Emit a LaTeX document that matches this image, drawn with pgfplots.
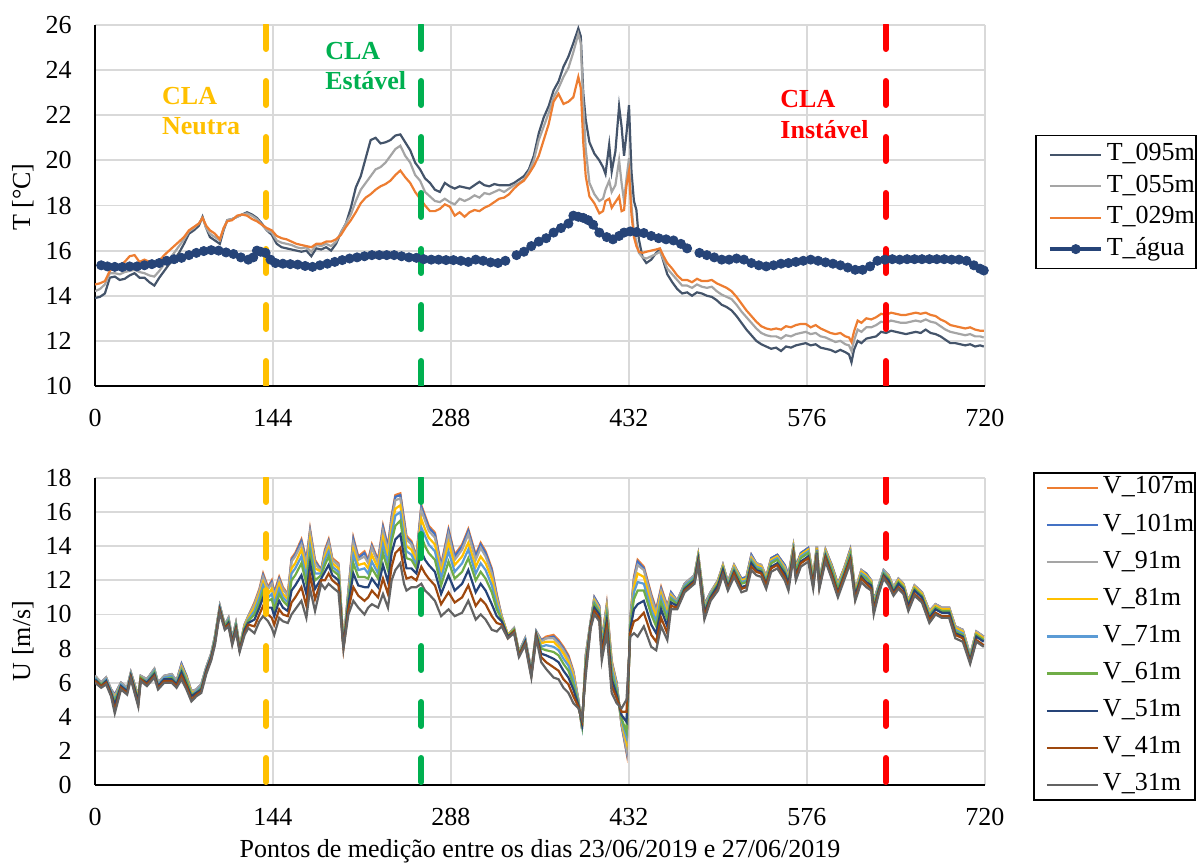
\documentclass[border=0pt]{standalone}
\usepackage{fontspec}
\setmainfont{Liberation Serif}
\usepackage{pgfplots}
\usepackage{pgfplotstable}
\pgfplotsset{compat=1.18}
\definecolor{c095}{HTML}{44546A}
\definecolor{c055}{HTML}{A5A5A5}
\definecolor{c029}{HTML}{ED7D31}
\definecolor{cagua}{HTML}{264478}
\definecolor{v107}{HTML}{ED7D31}
\definecolor{v101}{HTML}{4472C4}
\definecolor{v91}{HTML}{A5A5A5}
\definecolor{v81}{HTML}{FFC000}
\definecolor{v71}{HTML}{5B9BD5}
\definecolor{v61}{HTML}{70AD47}
\definecolor{v51}{HTML}{264478}
\definecolor{v41}{HTML}{9E480E}
\definecolor{v31}{HTML}{636363}
\definecolor{cyel}{HTML}{FFC000}
\definecolor{cgrn}{HTML}{00B050}
\definecolor{cred}{HTML}{FF0000}
\definecolor{gridc}{HTML}{D9D9D9}
\pgfplotsset{
 myaxis/.style={scale only axis, width=445pt, xmin=0, xmax=720,
  xtick={0,144,288,432,576,720},
  axis x line*=bottom, axis y line*=left,
  axis line style={black, line width=1pt},
  grid=major, major grid style={gridc, line width=0.9pt},
  major tick length=0pt, tick style={draw=none},
  ticklabel style={font=\fontsize{13}{13}\selectfont},
  /pgf/number format/assume math mode=true,
  xticklabel style={anchor=base, yshift=-20.3pt},
  yticklabel style={anchor=east, inner sep=0pt, xshift=-11.5pt},
  unbounded coords=jump,
  legend cell align=left,
  legend image code/.code={\path (0pt,0pt); \draw[mark repeat=2,mark phase=2,##1] plot coordinates {(5.5pt,0pt) (18.5pt,0pt) (31pt,0pt)};},
  legend style={draw=black, line width=0.8pt, fill=white,
    font=\fontsize{13}{13}\selectfont, inner xsep=0.5pt,
    nodes={inner sep=0pt, text height=9pt, text depth=3pt},
    /tikz/every odd column/.append style={column sep=2pt}},
 },
 vl/.style={line width=3pt, line cap=round, dash pattern=on 12pt off 16pt, forget plot},
}
\begin{document}
\pgfplotstableread[row sep=\\]{x y\\ 0 13.9\\ 4 13.95\\ 8 14.1\\ 12 14.8\\ 16 14.85\\ 20 14.7\\ 24 14.75\\ 28 14.9\\ 32 15.0\\ 36 14.8\\ 40 14.8\\ 44 14.6\\ 48 14.45\\ 52 14.8\\ 56 15.1\\ 60 15.4\\ 64 15.6\\ 68 15.9\\ 72 16.3\\ 76 16.75\\ 80 16.9\\ 84 17.1\\ 87 17.5\\ 90 17.0\\ 93 16.6\\ 97 16.45\\ 101 16.3\\ 104 16.9\\ 107 17.35\\ 111 17.4\\ 115 17.5\\ 119 17.6\\ 123 17.7\\ 127 17.6\\ 131 17.45\\ 135 17.2\\ 139 16.9\\ 143 16.7\\ 147 16.3\\ 151 16.15\\ 155 16.1\\ 159 16.05\\ 163 16.0\\ 167 15.95\\ 171 16.0\\ 175 15.75\\ 179 16.1\\ 183 16.05\\ 187 16.15\\ 191 16.0\\ 195 16.3\\ 199 16.8\\ 203 17.2\\ 207 17.9\\ 211 18.8\\ 215 19.3\\ 219 20.1\\ 223 20.9\\ 227 21.0\\ 231 20.75\\ 235 20.8\\ 239 20.9\\ 243 21.1\\ 247 21.15\\ 251 20.8\\ 255 20.45\\ 259 19.9\\ 263 19.6\\ 267 19.2\\ 271 19.0\\ 275 18.7\\ 279 18.6\\ 283 19.0\\ 287 18.85\\ 291 18.75\\ 295 18.85\\ 299 18.8\\ 303 18.75\\ 307 18.9\\ 311 19.05\\ 315 18.9\\ 319 18.85\\ 323 18.95\\ 327 18.9\\ 331 18.9\\ 335 18.9\\ 339 19.0\\ 343 19.15\\ 347 19.3\\ 351 19.6\\ 355 20.2\\ 359 21.2\\ 363 21.9\\ 367 22.4\\ 371 23.1\\ 375 23.5\\ 379 24.15\\ 383 24.6\\ 387 25.2\\ 391 25.85\\ 393 25.5\\ 395 23.0\\ 397 21.8\\ 400 20.8\\ 404 20.3\\ 408 20.0\\ 411 19.7\\ 413 19.4\\ 416 20.7\\ 418 19.5\\ 421 20.4\\ 424 22.4\\ 426 21.5\\ 428 20.2\\ 430 21.2\\ 432 22.45\\ 434 19.5\\ 436 18.2\\ 438 17.8\\ 440 16.5\\ 443 15.7\\ 446 15.45\\ 450 15.6\\ 454 15.9\\ 457 16.05\\ 460 15.5\\ 463 14.95\\ 467 14.6\\ 471 14.3\\ 475 14.1\\ 479 14.15\\ 483 14.0\\ 487 14.15\\ 491 14.1\\ 495 14.0\\ 499 13.95\\ 503 13.8\\ 507 13.6\\ 511 13.5\\ 515 13.35\\ 519 13.1\\ 523 12.8\\ 527 12.5\\ 531 12.25\\ 535 12.0\\ 539 11.85\\ 543 11.75\\ 547 11.65\\ 551 11.7\\ 555 11.55\\ 559 11.75\\ 563 11.7\\ 567 11.8\\ 571 11.85\\ 575 11.9\\ 579 11.8\\ 583 11.85\\ 587 11.7\\ 591 11.65\\ 595 11.6\\ 599 11.5\\ 603 11.6\\ 607 11.5\\ 610 11.4\\ 612 11.05\\ 614 11.6\\ 617 12.0\\ 620 11.9\\ 624 12.1\\ 628 12.15\\ 632 12.2\\ 636 12.4\\ 640 12.35\\ 644 12.45\\ 648 12.4\\ 652 12.35\\ 656 12.3\\ 660 12.35\\ 664 12.4\\ 668 12.35\\ 672 12.5\\ 676 12.35\\ 680 12.3\\ 684 12.2\\ 688 12.05\\ 692 11.9\\ 696 11.9\\ 700 11.85\\ 704 11.8\\ 708 11.85\\ 712 11.75\\ 716 11.8\\ 719 11.75\\}\tA
\pgfplotstableread[row sep=\\]{x y\\ 0 14.2\\ 4 14.3\\ 8 14.5\\ 12 15.0\\ 16 15.0\\ 20 14.95\\ 24 15.05\\ 28 15.1\\ 32 15.15\\ 36 15.05\\ 40 15.0\\ 44 14.9\\ 48 14.85\\ 52 15.1\\ 56 15.4\\ 60 15.6\\ 64 15.9\\ 68 16.2\\ 72 16.5\\ 76 16.85\\ 80 17.0\\ 84 17.2\\ 87 17.45\\ 90 17.0\\ 93 16.75\\ 97 16.6\\ 101 16.45\\ 104 16.95\\ 107 17.35\\ 111 17.4\\ 115 17.5\\ 119 17.6\\ 123 17.65\\ 127 17.55\\ 131 17.4\\ 135 17.15\\ 139 16.9\\ 143 16.8\\ 147 16.45\\ 151 16.35\\ 155 16.3\\ 159 16.25\\ 163 16.15\\ 167 16.1\\ 171 16.15\\ 175 15.95\\ 179 16.25\\ 183 16.2\\ 187 16.3\\ 191 16.2\\ 195 16.4\\ 199 16.8\\ 203 17.2\\ 207 17.6\\ 211 18.2\\ 215 18.7\\ 219 19.0\\ 223 19.3\\ 227 19.6\\ 231 19.7\\ 235 19.9\\ 239 20.2\\ 243 20.5\\ 247 20.65\\ 251 20.2\\ 255 19.9\\ 259 19.35\\ 263 19.1\\ 267 18.6\\ 271 18.4\\ 275 18.2\\ 279 18.15\\ 283 18.3\\ 287 18.15\\ 291 18.05\\ 295 18.3\\ 299 18.2\\ 303 18.3\\ 307 18.45\\ 311 18.35\\ 315 18.55\\ 319 18.5\\ 323 18.6\\ 327 18.7\\ 331 18.6\\ 335 18.75\\ 339 18.9\\ 343 19.0\\ 347 19.15\\ 351 19.5\\ 355 20.0\\ 359 20.9\\ 363 21.5\\ 367 22.1\\ 371 22.8\\ 375 23.2\\ 379 23.7\\ 383 24.1\\ 387 24.8\\ 391 25.6\\ 393 25.2\\ 395 22.5\\ 397 20.5\\ 400 19.0\\ 404 18.5\\ 408 18.2\\ 411 18.3\\ 413 18.7\\ 416 19.1\\ 418 18.6\\ 421 18.9\\ 424 20.0\\ 426 19.0\\ 428 18.2\\ 430 19.2\\ 432 20.1\\ 434 18.0\\ 436 16.8\\ 438 16.4\\ 440 15.9\\ 443 15.7\\ 446 15.65\\ 450 15.75\\ 454 15.85\\ 457 15.95\\ 460 15.6\\ 463 15.2\\ 467 14.95\\ 471 14.7\\ 475 14.45\\ 479 14.45\\ 483 14.35\\ 487 14.5\\ 491 14.4\\ 495 14.35\\ 499 14.4\\ 503 14.2\\ 507 14.05\\ 511 13.95\\ 515 13.85\\ 519 13.6\\ 523 13.3\\ 527 13.05\\ 531 12.8\\ 535 12.55\\ 539 12.35\\ 543 12.25\\ 547 12.2\\ 551 12.2\\ 555 12.1\\ 559 12.25\\ 563 12.2\\ 567 12.3\\ 571 12.35\\ 575 12.4\\ 579 12.3\\ 583 12.35\\ 587 12.2\\ 591 12.15\\ 595 12.05\\ 599 11.95\\ 603 12.0\\ 607 11.85\\ 610 11.8\\ 612 11.55\\ 614 12.0\\ 617 12.5\\ 620 12.4\\ 624 12.6\\ 628 12.6\\ 632 12.7\\ 636 12.85\\ 640 12.8\\ 644 12.9\\ 648 12.85\\ 652 12.8\\ 656 12.8\\ 660 12.85\\ 664 12.9\\ 668 12.85\\ 672 12.95\\ 676 12.85\\ 680 12.8\\ 684 12.65\\ 688 12.5\\ 692 12.4\\ 696 12.35\\ 700 12.3\\ 704 12.25\\ 708 12.3\\ 712 12.2\\ 716 12.2\\ 719 12.15\\}\tB
\pgfplotstableread[row sep=\\]{x y\\ 0 14.5\\ 4 14.55\\ 8 14.65\\ 12 15.1\\ 16 15.3\\ 20 15.35\\ 24 15.5\\ 28 15.75\\ 32 15.8\\ 36 15.5\\ 40 15.6\\ 44 15.5\\ 48 15.4\\ 52 15.55\\ 56 15.8\\ 60 16.0\\ 64 16.2\\ 68 16.4\\ 72 16.6\\ 76 16.9\\ 80 17.05\\ 84 17.2\\ 87 17.45\\ 90 17.1\\ 93 16.9\\ 97 16.75\\ 101 16.5\\ 104 17.0\\ 107 17.3\\ 111 17.35\\ 115 17.55\\ 119 17.6\\ 123 17.55\\ 127 17.4\\ 131 17.3\\ 135 17.15\\ 139 17.0\\ 143 16.9\\ 147 16.65\\ 151 16.55\\ 155 16.5\\ 159 16.4\\ 163 16.3\\ 167 16.25\\ 171 16.2\\ 175 16.15\\ 179 16.3\\ 183 16.3\\ 187 16.4\\ 191 16.4\\ 195 16.5\\ 199 16.7\\ 203 17.05\\ 207 17.35\\ 211 17.7\\ 215 18.1\\ 219 18.35\\ 223 18.5\\ 227 18.7\\ 231 18.85\\ 235 18.95\\ 239 19.1\\ 243 19.35\\ 247 19.55\\ 251 19.25\\ 255 19.0\\ 259 18.6\\ 263 18.3\\ 267 18.0\\ 271 17.75\\ 275 17.75\\ 279 17.85\\ 283 18.05\\ 287 17.95\\ 291 17.55\\ 295 17.7\\ 299 17.5\\ 303 17.7\\ 307 17.8\\ 311 17.75\\ 315 17.9\\ 319 18.0\\ 323 18.15\\ 327 18.3\\ 331 18.35\\ 335 18.5\\ 339 18.75\\ 343 18.95\\ 347 19.1\\ 351 19.4\\ 355 19.75\\ 359 20.2\\ 363 20.9\\ 367 21.6\\ 371 22.6\\ 375 22.95\\ 379 22.5\\ 383 22.6\\ 387 22.8\\ 391 23.7\\ 393 23.2\\ 395 20.8\\ 397 19.3\\ 400 18.4\\ 404 18.1\\ 408 17.65\\ 411 17.75\\ 413 18.2\\ 416 18.3\\ 418 17.9\\ 421 18.15\\ 424 18.4\\ 426 17.75\\ 428 17.8\\ 430 18.9\\ 432 19.5\\ 434 17.6\\ 436 16.6\\ 438 16.2\\ 440 15.95\\ 443 15.9\\ 446 15.95\\ 450 16.0\\ 454 16.05\\ 457 16.1\\ 460 15.75\\ 463 15.45\\ 467 15.2\\ 471 14.9\\ 475 14.7\\ 479 14.7\\ 483 14.6\\ 487 14.75\\ 491 14.65\\ 495 14.65\\ 499 14.7\\ 503 14.55\\ 507 14.45\\ 511 14.35\\ 515 14.2\\ 519 13.95\\ 523 13.65\\ 527 13.35\\ 531 13.1\\ 535 12.85\\ 539 12.65\\ 543 12.55\\ 547 12.5\\ 551 12.55\\ 555 12.5\\ 559 12.65\\ 563 12.6\\ 567 12.7\\ 571 12.75\\ 575 12.75\\ 579 12.6\\ 583 12.7\\ 587 12.55\\ 591 12.45\\ 595 12.35\\ 599 12.3\\ 603 12.35\\ 607 12.2\\ 610 12.15\\ 612 11.95\\ 614 12.4\\ 617 12.9\\ 620 12.8\\ 624 13.0\\ 628 12.95\\ 632 13.05\\ 636 13.2\\ 640 13.15\\ 644 13.25\\ 648 13.2\\ 652 13.15\\ 656 13.15\\ 660 13.2\\ 664 13.25\\ 668 13.2\\ 672 13.25\\ 676 13.15\\ 680 13.1\\ 684 12.95\\ 688 12.85\\ 692 12.7\\ 696 12.65\\ 700 12.6\\ 704 12.55\\ 708 12.6\\ 712 12.5\\ 716 12.45\\ 719 12.45\\}\tC
\pgfplotstableread[row sep=\\]{x y\\ 5 15.35\\ 10 15.3\\ 16 15.28\\ 22 15.27\\ 28 15.3\\ 34 15.3\\ 40 15.35\\ 46 15.4\\ 52 15.45\\ 58 15.55\\ 64 15.62\\ 70 15.68\\ 76 15.8\\ 82 15.9\\ 88 15.98\\ 94 16.02\\ 100 16.0\\ 106 15.92\\ 112 15.85\\ 118 15.7\\ 124 15.6\\ 128 15.7\\ 131 16.0\\ 134 15.95\\ 138 15.9\\ 142 15.6\\ 146 15.45\\ 152 15.42\\ 158 15.4\\ 164 15.38\\ 170 15.32\\ 176 15.28\\ 182 15.35\\ 188 15.42\\ 194 15.5\\ 200 15.58\\ 206 15.65\\ 212 15.7\\ 218 15.75\\ 224 15.8\\ 230 15.8\\ 236 15.8\\ 242 15.8\\ 248 15.75\\ 254 15.7\\ 260 15.68\\ 266 15.62\\ 272 15.6\\ 278 15.6\\ 284 15.58\\ 290 15.58\\ 296 15.55\\ 302 15.5\\ 308 15.6\\ 314 15.55\\ 320 15.48\\ 326 15.45\\ 332 15.55\\ 336 nan\\ 341 15.8\\ 347 15.95\\ 353 16.2\\ 359 16.4\\ 365 16.55\\ 371 16.8\\ 377 17.0\\ 383 17.2\\ 387 17.55\\ 391 17.5\\ 395 17.45\\ 399 17.35\\ 403 17.15\\ 408 16.8\\ 414 16.6\\ 419 16.5\\ 424 16.65\\ 428 16.8\\ 433 16.85\\ 438 16.82\\ 444 16.78\\ 450 16.65\\ 456 16.55\\ 462 16.5\\ 468 16.45\\ 474 16.3\\ 479 16.1\\ 484 nan\\ 489 15.9\\ 495 15.8\\ 501 15.7\\ 507 15.6\\ 513 15.6\\ 519 15.65\\ 525 15.6\\ 531 15.45\\ 537 15.35\\ 543 15.3\\ 549 15.35\\ 555 15.42\\ 561 15.45\\ 567 15.5\\ 573 15.55\\ 579 15.6\\ 585 15.55\\ 591 15.48\\ 597 15.42\\ 603 15.35\\ 609 15.25\\ 615 15.15\\ 621 15.15\\ 627 15.3\\ 633 15.55\\ 639 15.6\\ 645 15.62\\ 651 15.6\\ 657 15.62\\ 663 15.62\\ 669 15.62\\ 675 15.62\\ 681 15.62\\ 687 15.62\\ 693 15.6\\ 699 15.6\\ 705 15.55\\ 711 15.35\\ 716 15.2\\ 719 15.12\\}\tD
\pgfplotstableread[row sep=\\]{x a b c d e f g h i\\
0 6.4 6.4 6.4 6.3 6.3 6.2 6.2 6.1 6.0\\
5 6.0 6.0 6.0 5.9 5.9 5.9 5.8 5.8 5.7\\
9 6.3 6.3 6.3 6.2 6.2 6.1 6.1 6.0 5.9\\
13 5.6 5.6 5.6 5.5 5.5 5.4 5.4 5.3 5.2\\
16 5.3 5.3 5.2 5.1 5.0 4.9 4.7 4.4 4.2\\
21 6.0 6.0 6.0 5.9 5.9 5.8 5.8 5.7 5.6\\
26 5.7 5.7 5.7 5.6 5.6 5.5 5.5 5.4 5.3\\
29 6.6 6.6 6.6 6.5 6.5 6.4 6.4 6.3 6.2\\
35 5.2 5.2 5.2 5.1 5.0 5.0 4.9 4.7 4.6\\
37 6.4 6.4 6.4 6.3 6.3 6.3 6.2 6.2 6.1\\
42 6.2 6.2 6.2 6.1 6.1 6.0 6.0 5.9 5.8\\
48 6.8 6.8 6.8 6.7 6.7 6.6 6.5 6.4 6.3\\
51 6.0 6.0 6.0 5.9 5.9 5.8 5.8 5.7 5.6\\
56 6.4 6.4 6.4 6.3 6.3 6.2 6.2 6.1 6.0\\
62 6.5 6.5 6.5 6.4 6.4 6.3 6.2 6.1 6.0\\
66 6.1 6.1 6.1 6.0 6.0 5.9 5.9 5.8 5.7\\
70 7.1 7.1 7.0 6.9 6.8 6.7 6.6 6.4 6.2\\
74 6.4 6.4 6.3 6.3 6.2 6.1 5.9 5.8 5.6\\
78 5.5 5.5 5.5 5.4 5.3 5.3 5.2 5.0 4.9\\
82 5.6 5.6 5.6 5.5 5.5 5.4 5.4 5.3 5.2\\
86 5.9 5.9 5.9 5.8 5.8 5.7 5.6 5.5 5.4\\
90 6.9 6.9 6.9 6.8 6.8 6.7 6.7 6.6 6.5\\
94 7.7 7.7 7.7 7.6 7.6 7.5 7.5 7.4 7.3\\
97 8.7 8.7 8.7 8.6 8.6 8.5 8.4 8.3 8.2\\
101 10.5 10.5 10.5 10.4 10.4 10.3 10.3 10.2 10.1\\
105 9.4 9.4 9.4 9.3 9.3 9.3 9.2 9.2 9.1\\
108 9.8 9.8 9.8 9.7 9.7 9.6 9.5 9.4 9.3\\
111 8.6 8.6 8.6 8.5 8.5 8.4 8.4 8.3 8.2\\
114 9.5 9.5 9.5 9.4 9.4 9.3 9.2 9.1 9.0\\
117 8.1 8.1 8.1 8.0 8.0 8.0 7.9 7.9 7.8\\
121 9.4 9.4 9.4 9.3 9.2 9.2 9.1 8.9 8.8\\
124 9.9 9.9 9.9 9.8 9.7 9.6 9.5 9.4 9.2\\
129 10.7 10.6 10.6 10.4 10.2 10.0 9.7 9.3 8.9\\
133 11.5 11.4 11.4 11.2 11.0 10.7 10.4 10.0 9.6\\
136 12.4 12.3 12.2 11.9 11.7 11.4 11.0 10.5 9.9\\
140 11.6 11.5 11.5 11.2 11.0 10.8 10.4 10.0 9.6\\
143 12.0 11.9 11.8 11.5 11.2 10.9 10.4 9.8 9.2\\
145 11.3 11.2 11.1 10.9 10.6 10.3 9.9 9.4 8.8\\
149 12.2 12.1 12.0 11.8 11.5 11.2 10.8 10.3 9.8\\
152 11.6 11.5 11.5 11.2 11.0 10.8 10.4 10.0 9.6\\
156 11.2 11.1 11.1 10.9 10.7 10.5 10.2 9.9 9.5\\
159 13.3 13.2 13.1 12.7 12.4 12.0 11.4 10.7 10.0\\
162 13.6 13.5 13.4 13.0 12.7 12.3 11.7 11.0 10.3\\
167 14.4 14.3 14.1 13.8 13.4 13.0 12.3 11.6 10.8\\
171 13.2 13.1 13.0 12.6 12.2 11.8 11.2 10.5 9.8\\
174 15.0 14.9 14.8 14.4 14.0 13.6 13.0 12.3 11.5\\
178 13.2 13.1 13.0 12.7 12.4 12.0 11.5 10.9 10.2\\
183 12.6 12.6 12.5 12.5 12.4 12.3 12.1 12.0 11.8\\
186 13.8 13.7 13.6 13.4 13.2 12.9 12.5 12.0 11.5\\
189 14.4 14.3 14.2 13.9 13.7 13.4 12.9 12.4 11.8\\
192 13.3 13.2 13.2 13.0 12.8 12.6 12.3 12.0 11.6\\
197 13.0 12.9 12.9 12.7 12.5 12.3 12.0 11.7 11.3\\
201 8.2 8.2 8.2 8.2 8.1 8.1 8.1 8.0 8.0\\
205 11.4 11.4 11.3 11.1 11.0 10.8 10.6 10.3 10.0\\
209 14.5 14.4 14.2 13.8 13.5 13.0 12.4 11.6 10.8\\
213 13.4 13.3 13.2 12.9 12.6 12.2 11.7 11.1 10.4\\
218 13.7 13.6 13.4 13.0 12.7 12.2 11.6 10.8 10.0\\
221 13.2 13.1 13.0 12.7 12.4 12.1 11.6 11.0 10.4\\
224 14.1 14.0 13.9 13.5 13.1 12.7 12.1 11.4 10.6\\
229 13.2 13.1 13.0 12.7 12.4 12.1 11.6 11.0 10.4\\
233 15.2 15.1 14.9 14.5 14.1 13.6 12.9 12.1 11.2\\
237 14.0 13.9 13.7 13.4 13.0 12.6 11.9 11.2 10.4\\
240 15.8 15.7 15.5 15.1 14.7 14.3 13.6 12.8 12.0\\
243 17.0 16.9 16.7 16.2 15.8 15.2 14.4 13.6 12.6\\
247 17.1 17.0 16.8 16.4 16.0 15.5 14.7 13.9 13.0\\
250 15.6 15.5 15.3 14.9 14.5 14.1 13.4 12.6 11.8\\
252 14.6 14.5 14.4 14.0 13.7 13.3 12.7 12.1 11.4\\
256 14.3 14.2 14.1 13.8 13.5 13.2 12.7 12.2 11.6\\
260 13.4 13.3 13.3 13.1 12.9 12.7 12.4 12.0 11.6\\
264 16.4 16.3 16.1 15.6 15.1 14.6 13.7 12.8 11.8\\
267 15.8 15.7 15.5 15.0 14.6 14.0 13.2 12.4 11.4\\
270 15.2 15.1 14.9 14.5 14.1 13.6 12.9 12.1 11.2\\
275 14.8 14.7 14.5 14.1 13.7 13.2 12.5 11.7 10.8\\
280 12.9 12.8 12.7 12.4 12.1 11.7 11.2 10.6 9.9\\
286 15.0 14.9 14.7 14.2 13.7 13.1 12.3 11.3 10.3\\
291 13.5 13.4 13.2 12.9 12.5 12.1 11.4 10.7 9.9\\
297 14.1 14.0 13.8 13.4 13.0 12.5 11.8 11.0 10.1\\
302 15.0 14.9 14.7 14.2 13.8 13.3 12.6 11.7 10.8\\
308 13.5 13.4 13.2 12.8 12.4 12.0 11.3 10.5 9.7\\
312 14.2 14.1 13.9 13.4 13.0 12.5 11.8 10.9 10.0\\
316 13.7 13.6 13.4 13.0 12.6 12.1 11.4 10.6 9.7\\
321 12.7 12.6 12.4 12.1 11.7 11.3 10.6 9.9 9.1\\
325 11.2 11.1 11.0 10.8 10.6 10.3 9.9 9.5 9.0\\
329 9.9 9.9 9.9 9.8 9.7 9.7 9.6 9.4 9.3\\
334 8.8 8.8 8.8 8.8 8.7 8.7 8.7 8.6 8.6\\
339 9.2 9.2 9.2 9.1 9.1 9.1 9.0 9.0 8.9\\
343 7.8 7.8 7.8 7.7 7.7 7.7 7.6 7.6 7.5\\
348 8.6 8.6 8.6 8.5 8.5 8.4 8.4 8.3 8.2\\
353 6.7 6.7 6.7 6.6 6.6 6.5 6.5 6.4 6.3\\
357 9.0 9.0 9.0 8.9 8.9 8.8 8.8 8.7 8.6\\
361 8.5 8.5 8.4 8.3 8.1 8.0 7.7 7.5 7.2\\
365 8.7 8.6 8.6 8.4 8.2 7.9 7.6 7.2 6.8\\
371 8.8 8.7 8.6 8.4 8.1 7.8 7.4 6.9 6.3\\
375 8.5 8.4 8.3 8.1 7.9 7.6 7.2 6.7 6.2\\
379 8.1 8.0 7.9 7.7 7.4 7.1 6.7 6.2 5.7\\
383 7.6 7.5 7.4 7.2 7.0 6.7 6.3 5.9 5.4\\
387 6.7 6.6 6.6 6.4 6.2 5.9 5.6 5.2 4.8\\
391 5.0 5.0 5.0 4.9 4.9 4.8 4.7 4.6 4.5\\
394 3.3 3.3 3.3 3.4 3.5 3.5 3.6 3.8 3.9\\
397 7.6 7.6 7.5 7.4 7.3 7.1 6.9 6.7 6.4\\
401 9.6 9.6 9.6 9.5 9.5 9.4 9.4 9.3 9.2\\
404 11.0 11.0 10.9 10.8 10.7 10.6 10.4 10.2 10.0\\
408 10.5 10.5 10.4 10.3 10.2 10.1 10.0 9.8 9.6\\
410 8.5 8.5 8.4 8.3 8.2 8.0 7.8 7.6 7.3\\
414 10.6 10.5 10.5 10.3 10.1 9.9 9.6 9.3 8.9\\
418 7.3 7.2 7.2 7.0 6.8 6.5 6.2 5.8 5.4\\
422 6.0 6.0 5.9 5.8 5.7 5.5 5.3 5.1 4.8\\
426 3.5 3.5 3.6 3.7 3.8 3.9 4.1 4.3 4.5\\
430 1.9 2.0 2.1 2.5 2.8 3.1 3.7 4.3 5.0\\
433 9.7 9.7 9.6 9.5 9.4 9.3 9.1 8.9 8.7\\
436 12.2 12.1 12.0 11.6 11.3 10.9 10.3 9.6 8.9\\
439 13.2 13.1 12.9 12.4 11.9 11.4 10.6 9.7 8.7\\
444 12.8 12.7 12.6 12.2 11.8 11.4 10.8 10.1 9.3\\
450 11.2 11.1 11.0 10.6 10.3 10.0 9.4 8.8 8.1\\
454 10.3 10.2 10.1 9.9 9.6 9.3 8.9 8.4 7.9\\
458 11.6 11.5 11.4 11.2 11.0 10.7 10.3 9.8 9.3\\
463 10.5 10.4 10.4 10.1 9.9 9.7 9.3 8.9 8.5\\
466 11.3 11.3 11.2 11.1 11.0 10.9 10.7 10.5 10.3\\
471 10.8 10.8 10.8 10.7 10.7 10.6 10.5 10.4 10.3\\
477 11.8 11.8 11.8 11.7 11.7 11.6 11.5 11.4 11.3\\
485 12.3 12.3 12.3 12.2 12.2 12.1 12.0 11.9 11.8\\
488 13.5 13.5 13.5 13.4 13.3 13.3 13.2 13.0 12.9\\
493 10.6 10.6 10.5 10.4 10.3 10.2 10.1 9.9 9.7\\
498 11.3 11.3 11.3 11.2 11.2 11.1 11.0 10.9 10.8\\
504 12.0 12.0 12.0 11.9 11.8 11.8 11.7 11.5 11.4\\
508 12.9 12.9 12.9 12.8 12.7 12.7 12.6 12.4 12.3\\
512 11.9 11.9 11.9 11.8 11.8 11.7 11.6 11.5 11.4\\
517 12.9 12.9 12.9 12.8 12.7 12.6 12.5 12.4 12.2\\
523 12.1 12.1 12.0 12.0 11.9 11.8 11.6 11.5 11.3\\
527 12.2 12.2 12.1 12.1 12.0 11.9 11.7 11.6 11.4\\
531 13.5 13.5 13.4 13.3 13.2 13.1 13.0 12.8 12.6\\
535 13.0 13.0 13.0 12.9 12.8 12.7 12.6 12.5 12.3\\
539 12.9 12.9 12.9 12.8 12.7 12.6 12.5 12.4 12.2\\
543 12.2 12.2 12.2 12.1 12.0 11.9 11.8 11.7 11.5\\
547 13.3 13.3 13.2 13.2 13.1 13.0 12.8 12.7 12.5\\
552 13.5 13.5 13.4 13.4 13.3 13.2 13.0 12.9 12.7\\
558 12.9 12.9 12.8 12.7 12.6 12.5 12.4 12.2 12.0\\
561 12.3 12.3 12.2 12.1 12.0 11.9 11.8 11.6 11.4\\
565 14.0 14.0 14.0 13.9 13.8 13.7 13.6 13.5 13.3\\
567 12.8 12.8 12.7 12.7 12.6 12.5 12.3 12.2 12.0\\
571 13.6 13.6 13.5 13.5 13.4 13.3 13.1 13.0 12.8\\
577 13.9 13.9 13.8 13.8 13.7 13.6 13.4 13.3 13.1\\
581 12.2 12.2 12.2 12.1 12.0 11.9 11.8 11.7 11.5\\
584 14.0 14.0 14.0 13.9 13.8 13.7 13.6 13.5 13.3\\
586 12.0 12.0 12.0 11.9 11.9 11.8 11.7 11.6 11.5\\
591 13.8 13.8 13.8 13.7 13.6 13.5 13.4 13.3 13.1\\
596 12.9 12.9 12.8 12.8 12.7 12.6 12.4 12.3 12.1\\
601 11.8 11.8 11.7 11.7 11.6 11.5 11.3 11.2 11.0\\
606 12.7 12.7 12.7 12.6 12.5 12.4 12.3 12.2 12.0\\
611 13.8 13.8 13.7 13.7 13.6 13.5 13.3 13.2 13.0\\
615 11.4 11.4 11.4 11.3 11.2 11.2 11.1 10.9 10.8\\
620 12.6 12.6 12.6 12.5 12.4 12.3 12.2 12.1 11.9\\
624 12.4 12.4 12.3 12.3 12.2 12.1 11.9 11.8 11.6\\
628 12.0 12.0 12.0 11.9 11.8 11.8 11.7 11.5 11.4\\
630 10.8 10.8 10.7 10.7 10.6 10.5 10.3 10.2 10.0\\
634 11.7 11.7 11.7 11.6 11.6 11.5 11.4 11.3 11.2\\
638 12.6 12.6 12.6 12.5 12.5 12.4 12.3 12.2 12.1\\
642 12.3 12.3 12.3 12.2 12.1 12.1 12.0 11.8 11.7\\
646 11.6 11.6 11.6 11.5 11.5 11.4 11.3 11.2 11.1\\
650 12.1 12.1 12.1 12.0 11.9 11.9 11.8 11.6 11.5\\
654 11.8 11.8 11.8 11.7 11.6 11.6 11.5 11.3 11.2\\
658 10.8 10.8 10.8 10.7 10.6 10.6 10.5 10.3 10.2\\
663 11.7 11.7 11.7 11.6 11.5 11.5 11.4 11.2 11.1\\
669 11.3 11.3 11.3 11.2 11.1 11.1 11.0 10.8 10.7\\
675 10.2 10.2 10.2 10.1 10.0 9.9 9.8 9.7 9.5\\
680 10.6 10.6 10.6 10.5 10.4 10.4 10.3 10.1 10.0\\
685 10.4 10.4 10.4 10.3 10.2 10.2 10.1 9.9 9.8\\
691 10.4 10.4 10.4 10.3 10.2 10.2 10.1 9.9 9.8\\
696 9.3 9.3 9.3 9.2 9.1 9.0 8.9 8.8 8.6\\
702 9.1 9.1 9.1 9.0 8.9 8.8 8.7 8.6 8.4\\
708 7.6 7.6 7.6 7.5 7.5 7.4 7.3 7.2 7.1\\
713 9.0 9.0 9.0 8.9 8.8 8.8 8.7 8.5 8.4\\
719 8.7 8.7 8.7 8.6 8.5 8.5 8.4 8.2 8.1\\
}\V
\begin{tikzpicture}
\path[use as bounding box] (0,0) rectangle (600pt,433.5pt);
\begin{axis}[myaxis, at={(47.5pt,240.5pt)}, anchor=south west, height=180.5pt,
  ymin=10, ymax=26, ytick={10,12,...,26},
  ylabel={T [°C]},
  every axis y label/.style={at={(axis description cs:-0.081,0.523)}, rotate=90, anchor=center, font=\fontsize{13}{13}\selectfont},
  legend style={at={(1,0.51)}, anchor=west, xshift=25pt, inner ysep=3.6pt, row sep=3.75pt},
]
\addplot[c095, line width=1.1pt] table {\tA};
\addlegendentry{T\_095m}
\addplot[c055, line width=1.1pt] table {\tB};
\addlegendentry{T\_055m}
\addplot[c029, line width=1.1pt] table {\tC};
\addlegendentry{T\_029m}
\addplot[cagua, line width=2pt, mark=*, mark size=2.3pt, mark options={fill=cagua, draw=cagua, line width=0.4pt}] table {\tD};
\addlegendentry{T\_água}
\addplot[vl, cyel] coordinates {(138.3,26) (138.3,10)};
\addplot[vl, cgrn] coordinates {(264,26) (264,10)};
\addplot[vl, cred] coordinates {(639.7,26) (639.7,10)};
\node[anchor=north west, inner sep=0pt, align=left, text=cyel, font=\bfseries\fontsize{13}{15.3}\selectfont] at (axis cs:54,23.27) {CLA\\Neutra};
\node[anchor=north west, inner sep=0pt, align=left, text=cgrn, font=\bfseries\fontsize{13}{15.3}\selectfont] at (axis cs:186,25.26) {CLA\\Estável};
\node[anchor=north west, inner sep=0pt, align=left, text=cred, font=\bfseries\fontsize{13}{15.3}\selectfont] at (axis cs:554.2,23.12) {CLA\\Instável};
\end{axis}
\begin{axis}[myaxis, at={(47.5pt,41pt)}, anchor=south west, height=153.5pt,
  ymin=0, ymax=18, ytick={0,2,...,18},
  ylabel={U [m/s]},
  every axis y label/.style={at={(axis description cs:-0.081,0.469)}, rotate=90, anchor=center, font=\fontsize{13}{13}\selectfont},
  xlabel={Pontos de medição entre os dias 23/06/2019 e 27/06/2019},
  every axis x label/.style={at={(axis description cs:0.5,-0.2378)}, anchor=base, font=\fontsize{13}{13}\selectfont},
  legend style={at={(1,0.484)}, anchor=west, xshift=24pt, inner ysep=1.5pt, row sep=6.56pt},
]
\addplot[v107, line width=1.1pt] table[y=a] {\V};
\addlegendentry{V\_107m}
\addplot[v101, line width=1.1pt] table[y=b] {\V};
\addlegendentry{V\_101m}
\addplot[v91, line width=1.1pt] table[y=c] {\V};
\addlegendentry{V\_91m}
\addplot[v81, line width=1.1pt] table[y=d] {\V};
\addlegendentry{V\_81m}
\addplot[v71, line width=1.1pt] table[y=e] {\V};
\addlegendentry{V\_71m}
\addplot[v61, line width=1.1pt] table[y=f] {\V};
\addlegendentry{V\_61m}
\addplot[v51, line width=1.1pt] table[y=g] {\V};
\addlegendentry{V\_51m}
\addplot[v41, line width=1.1pt] table[y=h] {\V};
\addlegendentry{V\_41m}
\addplot[v31, line width=1.1pt] table[y=i] {\V};
\addlegendentry{V\_31m}
\addplot[vl, cyel] coordinates {(138.3,18) (138.3,0)};
\addplot[vl, cgrn] coordinates {(264,18) (264,0)};
\addplot[vl, cred] coordinates {(639.7,18) (639.7,0)};
\end{axis}
\end{tikzpicture}
\end{document}
